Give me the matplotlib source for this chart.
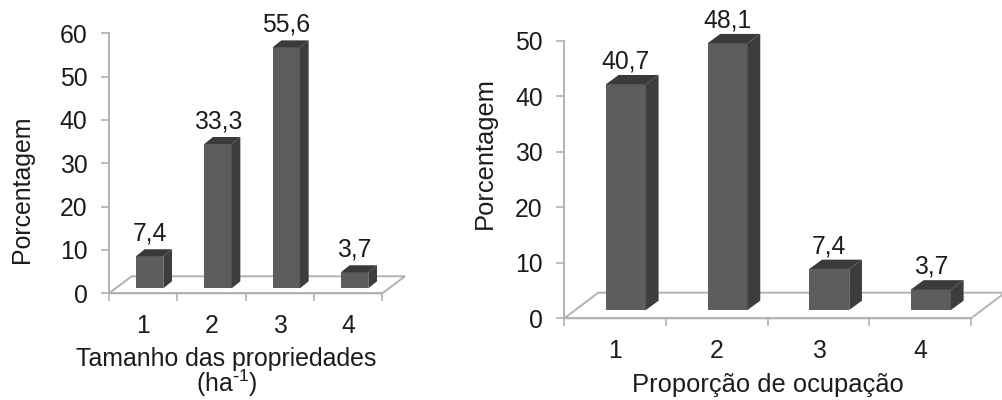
import matplotlib
matplotlib.use("Agg")
import matplotlib.pyplot as plt
from matplotlib.patches import Polygon

plt.rcParams['font.family'] = ['Liberation Sans', 'DejaVu Sans']
plt.rcParams['mathtext.default'] = 'regular'
plt.rcParams['axes.unicode_minus'] = False

W, H = 1002, 400
TEXT = '#1c1c1c'
AXIS = '#b2b2b2'
FRONT = '#5d5d5d'
SIDE = '#3d3d3d'
TOP = '#3a3a3a'

categories = [1, 2, 3, 4]
size_values = [7.4, 33.3, 55.6, 3.7]
size_labels = ['7,4', '33,3', '55,6', '3,7']
size_ticks = [0, 10, 20, 30, 40, 50, 60]
occupation_values = [40.7, 48.1, 7.4, 3.7]
occupation_labels = ['40,7', '48,1', '7,4', '3,7']
occupation_ticks = [0, 10, 20, 30, 40, 50]


def chart(box, ymax, values, labels, yticks, xlabel, xlabel_x, ylabel_x, ylabel_y,
          bar_width, bar_shift, base_px, depth_px, floor_px, xlabel_y, label_size):
    x0, x1, y0, y1 = box  # pixels: left, right, bottom (y=0), top (y=max)
    ax = plt.figure(1).add_axes([x0 / W, 1 - y0 / H, (x1 - x0) / W, (y0 - y1) / H])
    ax.set_xlim(0.5, 4.5)
    ax.set_ylim(0, ymax)
    ax.patch.set_alpha(0)
    ux = 4 / (x1 - x0)               # data units per pixel
    uy = ymax / (y0 - y1)
    for s in ('top', 'right'):
        ax.spines[s].set_visible(False)
    for s in ('left', 'bottom'):
        ax.spines[s].set_color(AXIS)
        ax.spines[s].set_linewidth(1.4)

    # floor of the 3D plot area
    fdx, fdy = floor_px[0] * ux, floor_px[1] * uy
    ax.add_patch(Polygon([(0.5, 0), (0.5 + fdx, fdy), (4.5 + fdx, fdy), (4.5, 0)],
                         closed=True, fc='white', ec=AXIS, lw=1.4,
                         clip_on=False, zorder=1))

    # bars with side and top faces
    base = base_px * uy
    dx, dy = depth_px[0] * ux, depth_px[1] * uy
    xs = [c + bar_shift for c in categories]
    ax.bar(xs, values, bar_width, bottom=base, color=FRONT, zorder=3, clip_on=False)
    for x, v, lab in zip(xs, values, labels):
        r = x + bar_width / 2
        l = x - bar_width / 2
        top = base + v
        ax.add_patch(Polygon([(r, base), (r + dx, base + dy), (r + dx, top + dy), (r, top)],
                             closed=True, fc=SIDE, ec='none', clip_on=False, zorder=3))
        ax.add_patch(Polygon([(l, top), (l + dx, top + dy), (r + dx, top + dy), (r, top)],
                             closed=True, fc=TOP, ec='none', clip_on=False, zorder=3))
        ax.annotate(lab, (x, top), xytext=(0, 11.2), textcoords='offset points',
                    ha='center', va='baseline', fontsize=17.8, color=TEXT, zorder=5)

    ax.set_yticks(yticks)
    ax.set_yticklabels([str(t) for t in yticks], fontsize=17.8, color=TEXT)
    ax.set_xticks([0.5, 1.5, 2.5, 3.5, 4.5])
    ax.set_xticklabels([])
    ax.set_xticks(categories, minor=True)
    ax.set_xticklabels([str(c) for c in categories], minor=True, fontsize=17.8, color=TEXT)
    ax.tick_params(axis='y', length=6, width=1.2, color=AXIS, pad=9.5)
    ax.tick_params(axis='x', which='major', length=5.8, width=1.2, color=AXIS)
    ax.tick_params(axis='x', which='minor', length=0, pad=15)

    ax.set_ylabel('Porcentagem', fontsize=label_size, color=TEXT, va='center')
    ax.yaxis.set_label_coords((ylabel_x - x0) / (x1 - x0), (y0 - ylabel_y) / (y0 - y1))
    ax.set_xlabel(xlabel, fontsize=label_size, color=TEXT, va='baseline', linespacing=0.86)
    ax.xaxis.set_label_coords((xlabel_x - x0) / (x1 - x0), (y0 - xlabel_y) / (y0 - y1))
    return ax


fig = plt.figure(1, figsize=(W / 100, H / 100), dpi=100, facecolor='white')

chart((109, 382.3, 293.3, 33.3), 60, size_values, size_labels, size_ticks,
      'Tamanho das propriedades\n(ha$^{\\text{-}1}$)', 226.5, 22, 189, 0.4, 0.095, 5,
      (8.7, 7), (22.7, 17), 392, 17.9)

chart((564.3, 971, 318.3, 41), 50, occupation_values, occupation_labels, occupation_ticks,
      'Proporção de ocupação', 767.5, 484.5, 153, 0.393, 0.106, 8.3,
      (12.7, 9.3), (34, 25.6), 392, 18.4)

fig.savefig('out.png', dpi=100, facecolor='white')
